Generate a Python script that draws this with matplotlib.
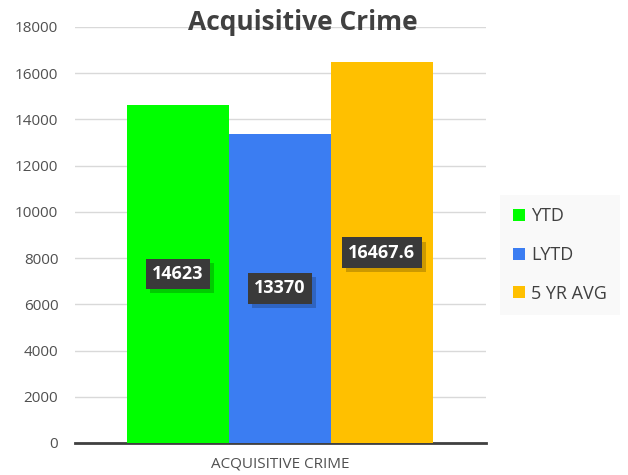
import matplotlib.pyplot as plt
import matplotlib.patheffects as pe

series = ['YTD', 'LYTD', '5 YR AVG']
values = [14623, 13370, 16467.6]
labels = ['14623', '13370', '16467.6']
colors = ['#00ff00', '#3b7df2', '#ffc000']
category = 'ACQUISITIVE CRIME'
yticks = [0, 2000, 4000, 6000, 8000, 10000, 12000, 14000, 16000, 18000]

plt.rcParams['font.family'] = ['Open Sans', 'DejaVu Sans']

fig = plt.figure(figsize=(6.28, 4.75), dpi=100)
ax = fig.add_axes([0.1194, 0.0674, 0.6545, 0.8758])

xs = [-1, 0, 1]
ax.bar(xs, values, width=1.0, color=colors, label=series, zorder=3)

# data labels: dark box with a soft drop shadow
for x, v, lab in zip(xs, values, labels):
    t = ax.text(x, v / 2, lab, ha='center', va='center', color='white',
                fontsize=13, fontweight='bold', zorder=5,
                bbox=dict(boxstyle='square,pad=0.35', facecolor='#3a3a3a',
                          edgecolor='none'))
    t.get_bbox_patch().set_path_effects(
        [pe.SimplePatchShadow(offset=(3, -3), shadow_rgbFace='black', alpha=0.2),
         pe.Normal()])

ax.set_xlim(-2.01, 2.02)
ax.set_ylim(0, 18000)
ax.set_yticks(yticks)
ax.set_yticklabels([str(v) for v in yticks])
ax.set_xticks([0])
ax.set_xticklabels([category])
ax.tick_params(axis='y', length=0, pad=12, labelsize=11, labelcolor='#505050')
ax.tick_params(axis='x', length=0, pad=10, labelsize=11, labelcolor='#505050')
ax.grid(axis='y', color='#d9d9d9', linewidth=1, zorder=0)
for s in ['top', 'right', 'left']:
    ax.spines[s].set_visible(False)
ax.spines['bottom'].set_color('#404040')
ax.spines['bottom'].set_linewidth(2)

fig.text(0.482, 0.953, 'Acquisitive Crime', ha='center', va='center',
         fontsize=19, fontweight='bold', color='#404040')

leg = ax.legend(loc='center left', bbox_to_anchor=(1.035, 0.452),
                bbox_transform=ax.transAxes, frameon=True, fontsize=13,
                handlelength=0.65, handleheight=0.65, handletextpad=0.35,
                labelspacing=1.15, borderpad=0.7, borderaxespad=0,
                fancybox=False)
leg.get_frame().set_facecolor('#f8f8f8')
leg.get_frame().set_edgecolor('none')
for txt in leg.get_texts():
    txt.set_color('#404040')

fig.savefig('out.png', dpi=100)
